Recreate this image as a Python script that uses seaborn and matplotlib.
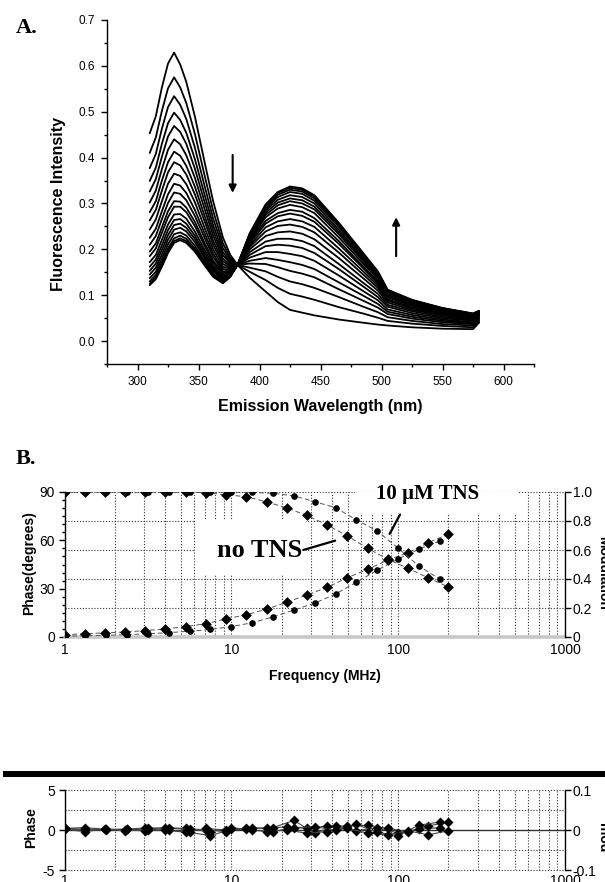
import numpy as np
import pandas as pd
import matplotlib
matplotlib.use("Agg")
import matplotlib.pyplot as plt
from matplotlib.ticker import (FixedLocator, MultipleLocator, FuncFormatter,
                               NullFormatter, LogLocator)
from matplotlib.patches import Rectangle
from matplotlib.lines import Line2D
import seaborn as sns

# ---------------- Panel A data : emission spectra ----------------
wavelength_nm = [310, 315, 320, 325, 330, 335, 340, 347, 355, 362, 370, 376, 382,
                 392, 405, 415, 425, 435, 445, 465, 485, 497, 505, 525, 550, 575, 580]
spec_00 = [0.453, 0.490, 0.553, 0.605, 0.629, 0.603, 0.565, 0.490, 0.390, 0.305, 0.226, 0.188, 0.166, 0.138, 0.108, 0.085, 0.068, 0.062, 0.056, 0.047, 0.040, 0.036, 0.034, 0.030, 0.027, 0.026, 0.040]
spec_01 = [0.410, 0.444, 0.502, 0.551, 0.575, 0.553, 0.519, 0.452, 0.361, 0.284, 0.213, 0.182, 0.166, 0.151, 0.133, 0.116, 0.103, 0.097, 0.090, 0.074, 0.060, 0.051, 0.044, 0.038, 0.033, 0.030, 0.043]
spec_02 = [0.377, 0.408, 0.463, 0.510, 0.534, 0.515, 0.484, 0.422, 0.338, 0.267, 0.203, 0.177, 0.166, 0.160, 0.152, 0.140, 0.130, 0.124, 0.116, 0.096, 0.075, 0.063, 0.052, 0.044, 0.037, 0.034, 0.046]
spec_03 = [0.349, 0.378, 0.430, 0.475, 0.498, 0.482, 0.454, 0.397, 0.319, 0.253, 0.194, 0.173, 0.166, 0.169, 0.168, 0.161, 0.153, 0.147, 0.139, 0.113, 0.088, 0.073, 0.059, 0.049, 0.041, 0.037, 0.048]
spec_04 = [0.326, 0.353, 0.402, 0.446, 0.469, 0.456, 0.430, 0.376, 0.303, 0.241, 0.187, 0.170, 0.166, 0.175, 0.181, 0.177, 0.172, 0.166, 0.157, 0.128, 0.099, 0.081, 0.064, 0.053, 0.044, 0.039, 0.050]
spec_05 = [0.302, 0.328, 0.375, 0.417, 0.440, 0.429, 0.405, 0.356, 0.288, 0.230, 0.180, 0.166, 0.166, 0.182, 0.194, 0.194, 0.190, 0.185, 0.175, 0.143, 0.109, 0.089, 0.069, 0.057, 0.047, 0.041, 0.052]
spec_06 = [0.281, 0.305, 0.350, 0.390, 0.413, 0.404, 0.382, 0.337, 0.273, 0.219, 0.174, 0.163, 0.166, 0.188, 0.207, 0.210, 0.208, 0.203, 0.192, 0.157, 0.119, 0.096, 0.075, 0.061, 0.050, 0.044, 0.054]
spec_07 = [0.263, 0.286, 0.328, 0.368, 0.390, 0.383, 0.363, 0.320, 0.261, 0.210, 0.168, 0.160, 0.166, 0.194, 0.217, 0.223, 0.223, 0.218, 0.207, 0.168, 0.127, 0.103, 0.079, 0.065, 0.053, 0.046, 0.055]
spec_08 = [0.243, 0.265, 0.305, 0.343, 0.365, 0.360, 0.342, 0.303, 0.247, 0.200, 0.162, 0.158, 0.166, 0.200, 0.229, 0.237, 0.239, 0.234, 0.222, 0.181, 0.137, 0.110, 0.084, 0.068, 0.056, 0.048, 0.057]
spec_09 = [0.225, 0.245, 0.283, 0.320, 0.343, 0.339, 0.323, 0.286, 0.235, 0.191, 0.157, 0.155, 0.166, 0.205, 0.239, 0.251, 0.254, 0.249, 0.237, 0.193, 0.145, 0.116, 0.088, 0.071, 0.058, 0.049, 0.058]
spec_10 = [0.210, 0.229, 0.266, 0.301, 0.324, 0.321, 0.307, 0.273, 0.225, 0.184, 0.152, 0.153, 0.166, 0.209, 0.248, 0.261, 0.266, 0.261, 0.249, 0.202, 0.152, 0.121, 0.091, 0.074, 0.060, 0.051, 0.059]
spec_11 = [0.195, 0.213, 0.248, 0.283, 0.305, 0.304, 0.291, 0.260, 0.214, 0.176, 0.148, 0.151, 0.166, 0.214, 0.256, 0.272, 0.278, 0.273, 0.260, 0.212, 0.159, 0.126, 0.095, 0.077, 0.062, 0.053, 0.060]
spec_12 = [0.185, 0.202, 0.236, 0.270, 0.293, 0.293, 0.281, 0.251, 0.208, 0.171, 0.145, 0.149, 0.166, 0.217, 0.262, 0.279, 0.286, 0.282, 0.268, 0.218, 0.163, 0.130, 0.097, 0.079, 0.063, 0.054, 0.061]
spec_13 = [0.172, 0.188, 0.221, 0.254, 0.276, 0.277, 0.267, 0.239, 0.199, 0.165, 0.141, 0.147, 0.166, 0.220, 0.270, 0.289, 0.297, 0.292, 0.279, 0.226, 0.169, 0.135, 0.100, 0.081, 0.065, 0.055, 0.062]
spec_14 = [0.162, 0.178, 0.209, 0.242, 0.264, 0.266, 0.256, 0.230, 0.192, 0.160, 0.138, 0.146, 0.166, 0.223, 0.275, 0.296, 0.305, 0.300, 0.287, 0.233, 0.174, 0.138, 0.103, 0.083, 0.067, 0.056, 0.063]
spec_15 = [0.153, 0.169, 0.199, 0.231, 0.253, 0.256, 0.247, 0.223, 0.186, 0.156, 0.135, 0.145, 0.166, 0.226, 0.280, 0.302, 0.311, 0.307, 0.293, 0.238, 0.178, 0.141, 0.105, 0.084, 0.068, 0.057, 0.064]
spec_16 = [0.145, 0.160, 0.189, 0.221, 0.243, 0.247, 0.239, 0.216, 0.181, 0.152, 0.133, 0.143, 0.166, 0.228, 0.285, 0.308, 0.318, 0.314, 0.300, 0.243, 0.181, 0.144, 0.107, 0.086, 0.069, 0.058, 0.064]
spec_17 = [0.137, 0.151, 0.180, 0.211, 0.233, 0.237, 0.230, 0.208, 0.175, 0.147, 0.130, 0.142, 0.166, 0.231, 0.289, 0.314, 0.325, 0.321, 0.306, 0.249, 0.185, 0.147, 0.108, 0.087, 0.070, 0.058, 0.065]
spec_18 = [0.130, 0.144, 0.172, 0.202, 0.224, 0.230, 0.223, 0.202, 0.171, 0.144, 0.128, 0.141, 0.166, 0.233, 0.293, 0.319, 0.330, 0.326, 0.311, 0.253, 0.188, 0.149, 0.110, 0.089, 0.071, 0.059, 0.065]
spec_19 = [0.125, 0.139, 0.166, 0.196, 0.218, 0.224, 0.218, 0.198, 0.167, 0.142, 0.127, 0.140, 0.166, 0.234, 0.296, 0.323, 0.334, 0.330, 0.315, 0.256, 0.190, 0.151, 0.111, 0.089, 0.072, 0.060, 0.066]
spec_20 = [0.122, 0.135, 0.162, 0.192, 0.214, 0.220, 0.214, 0.195, 0.165, 0.140, 0.126, 0.140, 0.166, 0.235, 0.298, 0.325, 0.337, 0.333, 0.318, 0.258, 0.192, 0.152, 0.112, 0.090, 0.072, 0.060, 0.066]
spectra = [spec_00, spec_01, spec_02, spec_03, spec_04, spec_05, spec_06, spec_07,
           spec_08, spec_09, spec_10, spec_11, spec_12, spec_13, spec_14, spec_15,
           spec_16, spec_17, spec_18, spec_19, spec_20]
xticks_A = [300, 350, 400, 450, 500, 550, 600]
# arrows (tail, head) in data units
arrow_down = ((378, 0.406), (378, 0.323))
arrow_up = ((512, 0.185), (512, 0.270))

# ---------------- Panel B data : phase / modulation ----------------
freq_no_tns = [1.0, 1.32, 1.75, 2.31, 3.05, 4.03, 5.33, 7.05, 9.31, 12.3, 16.3, 21.5,
               28.4, 37.5, 49.6, 65.6, 86.7, 114.6, 151.4, 200.0]
phase_no_tns = [1.4, 2.0, 2.6, 3.1, 4.0, 5.0, 6.5, 8.2, 11.3, 13.8, 17.3, 21.6,
                26.1, 30.8, 36.8, 42.0, 47.8, 52.3, 58.5, 63.9]
mod_no_tns = [1.0, 1.0, 1.0, 1.0, 1.0, 0.999, 0.998, 0.996, 0.98, 0.968, 0.932, 0.89,
              0.838, 0.773, 0.697, 0.612, 0.536, 0.474, 0.408, 0.345]
freq_tns = [1.0, 1.33, 1.78, 2.37, 3.16, 4.22, 5.62, 7.5, 10.0, 13.3, 17.8, 23.7,
            31.6, 42.2, 56.2, 75.0, 100.0, 133.0, 178.0]
phase_tns = [0.5, 0.7, 1.0, 1.5, 2.0, 2.7, 3.6, 4.7, 6.5, 8.8, 12.5, 16.8,
             21.0, 26.7, 34.0, 41.5, 48.5, 54.5, 59.6]
mod_tns = [1.0, 1.0, 1.0, 1.0, 1.0, 1.0, 1.0, 1.0, 0.998, 0.997, 0.991, 0.974,
           0.933, 0.892, 0.807, 0.731, 0.612, 0.490, 0.398]
phase_ticks = [0, 30, 60, 90]
mod_ticks = [0, 0.2, 0.4, 0.6, 0.8, 1.0]
freq_ticks = [1, 10, 100, 1000]

# residuals
res_phase_no_tns = [0.2, 0.3, 0.1, -0.1, 0.2, 0.3, 0.2, 0.0, -0.2, 0.3, 0.2, 0.4,
                    0.2, 0.5, 0.5, 0.6, 0.2, -0.2, 0.5, 1.0]
res_mod_no_tns = [0.002, -0.004, 0.002, 0.0, -0.002, 0.0, -0.006, 0.004, 0.0, 0.002,
                  -0.004, 0.0, -0.008, -0.004, 0.004, -0.008, -0.012, -0.002, -0.012, -0.002]
res_phase_tns = [0.1, 0.0, 0.1, 0.1, 0.3, 0.0, -0.3, -0.7, 0.1, 0.2, 0.3, 1.2,
                 -0.4, 0.5, -0.1, 0.3, -0.4, 0.1, 0.3]
res_mod_tns = [0.004, 0.002, 0.0, 0.002, 0.0, 0.004, 0.002, -0.004, 0.006, 0.0,
               -0.004, 0.006, 0.008, 0.0, 0.014, -0.006, -0.014, 0.012, 0.02]
res_phase_ticks = [-5, 0, 5]
res_mod_ticks = [-0.1, 0, 0.1]

# ---------------- styling ----------------
sns.set_theme(style="ticks")
plt.rcParams["font.family"] = ["Liberation Sans", "DejaVu Sans"]
plt.rcParams["axes.unicode_minus"] = False
plt.rcParams["axes.linewidth"] = 1.0
for k in ["xtick.color", "ytick.color", "axes.edgecolor", "text.color",
          "axes.labelcolor", "xtick.labelcolor", "ytick.labelcolor"]:
    plt.rcParams[k] = "black"
SERIF = ["Liberation Serif", "DejaVu Serif"]

W, H = 605, 882
fig = plt.figure(figsize=(W / 100, H / 100), dpi=100)
fig.patch.set_facecolor("white")


def box(l, t, r, b):
    return [l / W, 1 - b / H, (r - l) / W, (b - t) / H]


def ax_pos(bx, x, y):
    l, t, r, b = bx
    return ((x - l) / (r - l), (b - y) / (b - t))


BOX_A = (107, 20, 534, 364)
BOX_B = (64.5, 492, 565, 637)
BOX_R = (64.5, 790, 565, 870)
axA = fig.add_axes(box(*BOX_A))
axB = fig.add_axes(box(*BOX_B))
axR = fig.add_axes(box(*BOX_R))

# ================= Panel A =================
rows = []
for i, s in enumerate(spectra):
    for w, v in zip(wavelength_nm, s):
        rows.append((i, w, v))
dfA = pd.DataFrame(rows, columns=["curve", "wl", "intensity"])
sns.lineplot(data=dfA, x="wl", y="intensity", units="curve", estimator=None,
             sort=False, color="black", lw=1.3, ax=axA, legend=False)
axA.set_xlim(275, 625)
axA.set_ylim(-0.05, 0.7)
axA.xaxis.set_major_locator(FixedLocator(xticks_A))
axA.xaxis.set_minor_locator(MultipleLocator(25))
axA.yaxis.set_major_locator(MultipleLocator(0.1))
axA.yaxis.set_minor_locator(MultipleLocator(0.05))
axA.yaxis.set_major_formatter(FuncFormatter(lambda v, p: f"{v:.1f}"))
axA.spines["top"].set_visible(False)
axA.spines["right"].set_visible(False)
axA.tick_params(which="major", direction="out", length=4, width=1, labelsize=8.5, pad=4.5)
axA.tick_params(which="minor", direction="out", length=2.4, width=1)
axA.set_xlabel("Emission Wavelength (nm)", fontsize=11.5, fontweight="bold")
axA.set_ylabel("Fluorescence Intensity", fontsize=11.5, fontweight="bold")
axA.xaxis.set_label_coords(*ax_pos(BOX_A, 320, 407))
axA.xaxis.label.set_verticalalignment("center")
axA.yaxis.set_label_coords(*ax_pos(BOX_A, 59, 204))
axA.yaxis.label.set_verticalalignment("center")
for tail, head in (arrow_down, arrow_up):
    axA.annotate("", xy=head, xytext=tail,
                 arrowprops=dict(arrowstyle="-|>", color="black", lw=1.5,
                                 mutation_scale=11, shrinkA=0, shrinkB=0))

# ================= Panel B =================
axB.set_xscale("log")
axB.set_xlim(1, 1000)
axB.set_ylim(0, 90)
axB2 = axB.twinx()
axB2.set_ylim(0, 1)

dot = (0, (1, 1.6))
axB.xaxis.set_major_locator(FixedLocator(freq_ticks))
axB.xaxis.set_minor_locator(LogLocator(base=10, subs=np.arange(2, 10), numticks=100))
axB.xaxis.set_minor_formatter(NullFormatter())
axB.xaxis.set_major_formatter(FuncFormatter(lambda v, p: f"{v:g}"))
axB.grid(True, which="both", axis="x", color="#333333", lw=0.8, ls=dot)
for m in mod_ticks[1:]:
    axB.axhline(m * 90, color="#333333", lw=0.8, ls=dot, zorder=0.6, clip_on=False)
axB.axhline(0, color="#c8c8c8", lw=2.6, zorder=1.5, clip_on=False)

# label backgrounds (white)
nx0, ny0 = ax_pos(BOX_B, 195, 575)
nx1, ny1 = ax_pos(BOX_B, 306, 520)
axB.add_patch(Rectangle((nx0, ny0), nx1 - nx0, ny1 - ny0, transform=axB.transAxes,
                        facecolor="white", edgecolor="none", zorder=1))
tx0, ty0 = ax_pos(BOX_B, 355, 513)
tx1, _ = ax_pos(BOX_B, 518, 480)
axB.add_patch(Rectangle((tx0, ty0), tx1 - tx0, 1.2 - ty0, transform=axB.transAxes,
                        facecolor="white", edgecolor="none", zorder=1))

fit_ls = (0, (5, 3))
sns.lineplot(x=freq_no_tns, y=phase_no_tns, ax=axB, color="#555555", lw=0.7,
             linestyle=fit_ls, estimator=None, sort=False, zorder=2)
sns.lineplot(x=freq_tns, y=phase_tns, ax=axB, color="#555555", lw=0.7,
             linestyle=fit_ls, estimator=None, sort=False, zorder=2)
sns.scatterplot(x=freq_no_tns, y=phase_no_tns, ax=axB, marker="D", s=30, clip_on=True,
                color="black", edgecolor="black", linewidth=0, zorder=3, legend=False)
sns.scatterplot(x=freq_tns, y=phase_tns, ax=axB, marker="o", s=23, clip_on=True,
                color="black", edgecolor="black", linewidth=0, zorder=3, legend=False)

sns.lineplot(x=freq_no_tns, y=mod_no_tns, ax=axB2, color="#555555", lw=0.7,
             linestyle=fit_ls, estimator=None, sort=False, zorder=2)
sns.lineplot(x=freq_tns, y=mod_tns, ax=axB2, color="#555555", lw=0.7,
             linestyle=fit_ls, estimator=None, sort=False, zorder=2)
sns.scatterplot(x=freq_no_tns, y=mod_no_tns, ax=axB2, marker="D", s=30, clip_on=True,
                color="black", edgecolor="black", linewidth=0, zorder=3, legend=False)
sns.scatterplot(x=freq_tns, y=mod_tns, ax=axB2, marker="o", s=23, clip_on=True,
                color="black", edgecolor="black", linewidth=0, zorder=3, legend=False)
axB2.set_xlim(1, 1000)

# annotations
axB.text(14.7, 53.4, "no TNS", fontsize=19, fontweight="bold", family=SERIF,
         ha="center", va="center", zorder=6)
axB.plot([27.0, 41.9], [54.0, 59.8], color="black", lw=1.6, zorder=6)
axB.text(151, 89.0, "10 \u00b5M TNS", fontsize=15, fontweight="bold", family=SERIF,
         ha="center", va="center", zorder=6)
axB.plot([88.8, 102.6], [63.9, 76.0], color="black", lw=1.6, zorder=6)

axB.yaxis.set_major_locator(FixedLocator(phase_ticks))
axB.yaxis.set_minor_locator(MultipleLocator(5))
axB.tick_params(axis="x", which="both", length=0, pad=4, labelsize=10)
axB.tick_params(axis="y", which="major", direction="out", length=4, width=1, pad=3, labelsize=10)
axB.tick_params(axis="y", which="minor", direction="out", length=2, width=1)
axB2.yaxis.set_major_locator(FixedLocator(mod_ticks))
axB2.yaxis.set_major_formatter(FuncFormatter(lambda v, p: "0" if abs(v) < 1e-9 else f"{v:.1f}"))
axB2.tick_params(axis="y", which="major", direction="out", length=4, width=1, pad=1.5, labelsize=10)
axB2.tick_params(axis="y", which="minor", length=0)
for sp in ["top", "bottom", "right"]:
    axB.spines[sp].set_visible(False)
for sp in ["top", "bottom", "left"]:
    axB2.spines[sp].set_visible(False)

axB.set_xlabel("Frequency (MHz)", fontsize=10, fontweight="bold")
axB.xaxis.set_label_coords(*ax_pos(BOX_B, 325, 676))
axB.xaxis.label.set_verticalalignment("center")
axB.set_ylabel("Phase(degrees)", fontsize=10, fontweight="bold")
axB.yaxis.set_label_coords(*ax_pos(BOX_B, 29, 563))
axB.yaxis.label.set_verticalalignment("center")
axB2.set_ylabel("Modulation", fontsize=10, fontweight="bold", rotation=270)
axB2.yaxis.set_label_coords(*ax_pos(BOX_B, 603, 573))
axB2.yaxis.label.set_verticalalignment("center")
axB2.yaxis.label.set_horizontalalignment("center")

# ================= Residual panel =================
axR.set_xscale("log")
axR.set_xlim(1, 1000)
axR.set_ylim(-5, 5)
axR2 = axR.twinx()
axR2.set_ylim(-0.1, 0.1)
axR.xaxis.set_major_locator(FixedLocator(freq_ticks))
axR.xaxis.set_minor_locator(LogLocator(base=10, subs=np.arange(2, 10), numticks=100))
axR.xaxis.set_minor_formatter(NullFormatter())
axR.xaxis.set_major_formatter(FuncFormatter(lambda v, p: f"{v:g}"))
axR.grid(True, which="both", axis="x", color="#333333", lw=0.8, ls=dot)
for yv in (-5, -2.5, 2.5, 5):
    axR.axhline(yv, color="#333333", lw=0.8, ls=dot, zorder=0.6, clip_on=False)
axR.axhline(0, color="#333333", lw=1.0, zorder=1.5)

sns.lineplot(x=freq_no_tns, y=res_phase_no_tns, ax=axR, color="#444444", lw=0.8,
             estimator=None, sort=False, zorder=2)
sns.lineplot(x=freq_tns, y=res_phase_tns, ax=axR, color="#444444", lw=0.8,
             estimator=None, sort=False, zorder=2)
sns.scatterplot(x=freq_no_tns, y=res_phase_no_tns, ax=axR, marker="D", s=26,
                color="black", edgecolor="black", linewidth=0, zorder=3, legend=False)
sns.scatterplot(x=freq_tns, y=res_phase_tns, ax=axR, marker="D", s=26,
                color="black", edgecolor="black", linewidth=0, zorder=3, legend=False)
sns.lineplot(x=freq_no_tns, y=res_mod_no_tns, ax=axR2, color="#444444", lw=0.8,
             estimator=None, sort=False, zorder=2)
sns.lineplot(x=freq_tns, y=res_mod_tns, ax=axR2, color="#444444", lw=0.8,
             estimator=None, sort=False, zorder=2)
sns.scatterplot(x=freq_no_tns, y=res_mod_no_tns, ax=axR2, marker="D", s=26,
                color="black", edgecolor="black", linewidth=0, zorder=3, legend=False)
sns.scatterplot(x=freq_tns, y=res_mod_tns, ax=axR2, marker="D", s=26,
                color="black", edgecolor="black", linewidth=0, zorder=3, legend=False)
axR2.set_xlim(1, 1000)

axR.yaxis.set_major_locator(FixedLocator(res_phase_ticks))
axR.yaxis.set_major_formatter(FuncFormatter(lambda v, p: f"{v:g}"))
axR.tick_params(axis="x", which="both", length=0, pad=3, labelsize=10)
axR.tick_params(axis="y", which="major", direction="out", length=4, width=1, pad=3, labelsize=10)
axR2.yaxis.set_major_locator(FixedLocator(res_mod_ticks))
axR2.yaxis.set_major_formatter(FuncFormatter(lambda v, p: "0" if abs(v) < 1e-9 else f"{v:g}"))
axR2.tick_params(axis="y", which="major", direction="out", length=4, width=1, pad=1.5, labelsize=10)
for sp in ["top", "bottom", "right"]:
    axR.spines[sp].set_visible(False)
for sp in ["top", "bottom", "left"]:
    axR2.spines[sp].set_visible(False)
axR.set_xlabel("")
axR.set_ylabel("Phase", fontsize=10, fontweight="bold")
axR.yaxis.set_label_coords(*ax_pos(BOX_R, 31, 828))
axR.yaxis.label.set_verticalalignment("center")
axR2.set_ylabel("mod", fontsize=10, fontweight="bold", rotation=270)
axR2.yaxis.set_label_coords(*ax_pos(BOX_R, 603, 838))
axR2.yaxis.label.set_verticalalignment("center")
axR2.yaxis.label.set_horizontalalignment("center")

# ================= figure decorations =================
fig.text(27 / W, 1 - 28 / H, "A.", fontsize=16, fontweight="bold", family=SERIF,
         ha="center", va="center")
fig.text(26 / W, 1 - 459 / H, "B.", fontsize=16, fontweight="bold", family=SERIF,
         ha="center", va="center")
fig.add_artist(Line2D([3 / W, 1.0], [1 - 774 / H, 1 - 774 / H], color="black",
                      lw=4.3, solid_capstyle="butt", transform=fig.transFigure))

fig.savefig("out.png", dpi=100, facecolor="white")
